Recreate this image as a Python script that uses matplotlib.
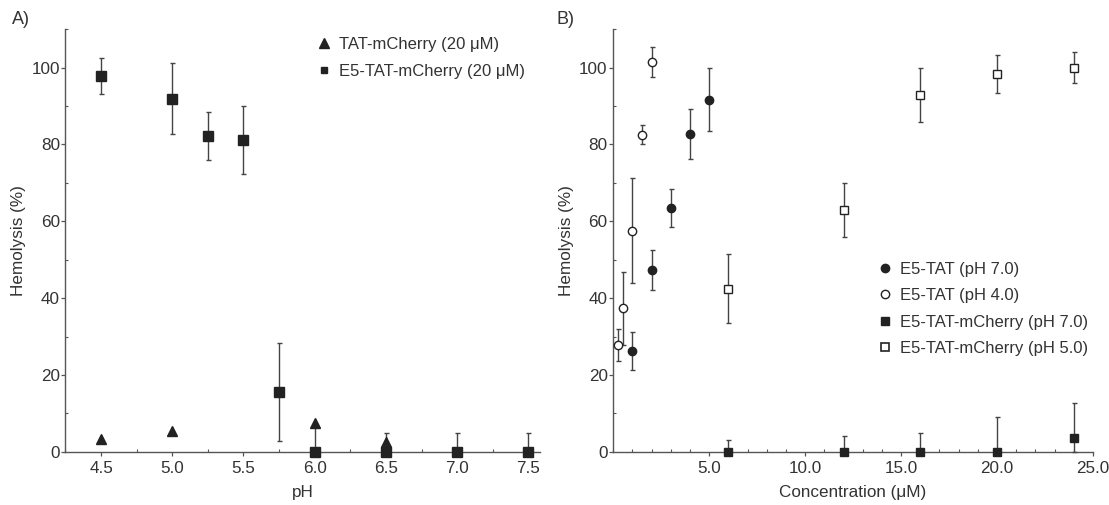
import matplotlib
matplotlib.use("Agg")
import matplotlib.pyplot as plt
from matplotlib.ticker import MultipleLocator, FormatStrFormatter
from matplotlib.lines import Line2D

plt.rcParams['font.family'] = ['Liberation Sans', 'DejaVu Sans']

# ---- panel A: hemolysis vs pH ----
ph_tat = [4.5, 5.0, 6.0, 6.5]
hem_tat = [3.2, 5.5, 7.4, 2.6]

ph_e5 = [4.5, 5.0, 5.25, 5.5, 5.75, 6.0, 6.5, 7.0, 7.5]
hem_e5 = [97.8, 91.9, 82.2, 81.1, 15.6, 0.0, 0.0, 0.0, 0.0]
err_e5 = [4.7, 9.2, 6.3, 8.8, 12.7, 7.0, 5.0, 5.0, 5.0]

# ---- panel B: hemolysis vs concentration ----
c_tat7 = [1, 2, 3, 4, 5]
h_tat7 = [26.2, 47.3, 63.4, 82.7, 91.6]
e_tat7 = [5.0, 5.3, 5.0, 6.5, 8.2]

c_tat4 = [0.25, 0.5, 1.0, 1.5, 2.0]
h_tat4 = [27.8, 37.4, 57.6, 82.5, 101.5]
e_tat4 = [4.1, 9.5, 13.7, 2.5, 4.0]

c_mch = [6, 12, 16, 20, 24]
h_mch7 = [0.0, 0.0, 0.0, 0.0, 3.6]
e_mch7 = [3.0, 4.0, 5.0, 9.0, 9.0]
h_mch5 = [42.5, 62.9, 92.9, 98.4, 100.0]
e_mch5 = [9.0, 7.0, 7.0, 5.0, 4.0]

dark = '#222222'
axc = '#555555'
txt = '#333333'
fs = 12.3


def yerr_floor(vals, errs):
    # error bars are not drawn below 0 %
    return [[min(e, v) for v, e in zip(vals, errs)], list(errs)]


fig = plt.figure(figsize=(11.09, 5.05), dpi=100)
axA = fig.add_axes([0.059, 0.1055, 0.428, 0.8365])
axB = fig.add_axes([0.553, 0.1055, 0.4325, 0.8365])

ebkw = dict(ecolor='#444444', elinewidth=1.0, capsize=1.8, capthick=1.0, linestyle='none')

axA.errorbar(ph_e5, hem_e5, yerr=yerr_floor(hem_e5, err_e5), marker='s', ms=6.5,
             mfc=dark, mec=dark, zorder=3, **ebkw)
axA.plot(ph_tat, hem_tat, linestyle='none', marker='^', ms=6.5, mfc=dark, mec=dark, zorder=4)

axA.set_xlim(4.25, 7.582)
axA.set_ylim(0, 110)
axA.xaxis.set_major_locator(MultipleLocator(0.5))
axA.xaxis.set_minor_locator(MultipleLocator(0.25))
axA.xaxis.set_major_formatter(FormatStrFormatter('%.1f'))
axA.set_xlabel('pH', fontsize=fs, color=txt, labelpad=6)

axB.errorbar(c_tat7, h_tat7, yerr=yerr_floor(h_tat7, e_tat7), marker='o', ms=6,
             mfc=dark, mec=dark, zorder=3, **ebkw)
axB.errorbar(c_tat4, h_tat4, yerr=yerr_floor(h_tat4, e_tat4), marker='o', ms=6,
             mfc='white', mec=dark, mew=1.0, zorder=3, **ebkw)
axB.errorbar(c_mch, h_mch7, yerr=yerr_floor(h_mch7, e_mch7), marker='s', ms=6,
             mfc=dark, mec=dark, zorder=3, **ebkw)
axB.errorbar(c_mch, h_mch5, yerr=yerr_floor(h_mch5, e_mch5), marker='s', ms=6,
             mfc='white', mec=dark, mew=1.0, zorder=3, **ebkw)

axB.set_xlim(0, 25)
axB.set_ylim(0, 110)
axB.set_xticks([5, 10, 15, 20, 25])
axB.xaxis.set_minor_locator(MultipleLocator(1))
axB.xaxis.set_major_formatter(FormatStrFormatter('%.1f'))
axB.set_xlabel('Concentration (\u03bcM)', fontsize=fs, color=txt, labelpad=6)

for ax in (axA, axB):
    ax.spines['top'].set_visible(False)
    ax.spines['right'].set_visible(False)
    for s in ('left', 'bottom'):
        ax.spines[s].set_color(axc)
        ax.spines[s].set_linewidth(1.0)
    ax.yaxis.set_major_locator(MultipleLocator(20))
    ax.yaxis.set_minor_locator(MultipleLocator(10))
    ax.tick_params(which='major', direction='out', length=3, width=0.9, color=axc,
                   labelsize=fs, labelcolor=txt)
    ax.tick_params(axis='y', which='major', pad=1)
    ax.tick_params(axis='x', which='major', pad=4)
    ax.tick_params(which='minor', direction='in', length=2.5, width=0.8, color=axc)
    ax.set_ylabel('Hemolysis (%)', fontsize=fs, color=txt, labelpad=4)
    for art in ax.get_children():
        try:
            art.set_clip_on(False)
        except Exception:
            pass

handlesA = [
    Line2D([], [], linestyle='none', marker='^', ms=6.5, mfc=dark, mec=dark),
    Line2D([], [], linestyle='none', marker='s', ms=5, mfc=dark, mec=dark),
]
axA.legend(handlesA, ['TAT-mCherry (20 \u03bcM)', 'E5-TAT-mCherry (20 \u03bcM)'],
           loc='upper left', bbox_to_anchor=(0.5, 1.018), frameon=False, fontsize=fs - 0.3,
           handlelength=0.8, handletextpad=0.5, labelspacing=0.75, labelcolor=txt)

handlesB = [
    Line2D([], [], linestyle='none', marker='o', ms=6, mfc=dark, mec=dark),
    Line2D([], [], linestyle='none', marker='o', ms=6, mfc='white', mec=dark),
    Line2D([], [], linestyle='none', marker='s', ms=5.5, mfc=dark, mec=dark),
    Line2D([], [], linestyle='none', marker='s', ms=5.5, mfc='white', mec=dark, mew=1.2),
]
axB.legend(handlesB, ['E5-TAT (pH 7.0)', 'E5-TAT (pH 4.0)',
                      'E5-TAT-mCherry (pH 7.0)', 'E5-TAT-mCherry (pH 5.0)'],
           loc='upper left', bbox_to_anchor=(0.522, 0.485), frameon=False, fontsize=fs - 0.3,
           handlelength=0.8, handletextpad=0.5, labelspacing=0.68, labelcolor=txt)

fig.text(0.011, 0.962, 'A)', fontsize=fs + 0.7, color=txt, va='center')
fig.text(0.502, 0.962, 'B)', fontsize=fs + 0.7, color=txt, va='center')

fig.savefig('out.png', dpi=100)
